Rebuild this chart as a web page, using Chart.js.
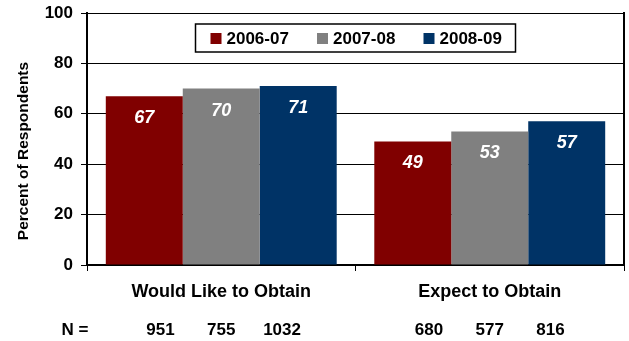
<!DOCTYPE html>
<html>
<head>
<meta charset="utf-8">
<script src="https://cdn.jsdelivr.net/npm/chart.js@4"></script>
<style>
    html, body { margin: 0; padding: 0; background: #fff; }
    #grafica-contenedor { width: 629px; height: 341px; }
</style>
</head>
<body>
<div id="grafica-contenedor"><canvas id="grafica"></canvas></div>
<script>
// ==================== DATOS ====================
const categorias = ['Would Like to Obtain', 'Expect to Obtain'];
const series = ['2006-07', '2007-08', '2008-09'];
const valores0607 = [67, 49];
const valores0708 = [70, 53];
const valores0809 = [71, 57];
// N por categoria, en el orden de las series
const nWouldLike = [951, 755, 1032];
const nExpect = [680, 577, 816];
const ticksY = [0, 20, 40, 60, 80, 100];

const colores = ['#800000', '#808080', '#003366'];
const fuente = "Arial, 'Liberation Sans', sans-serif";

// Dibuja etiquetas, leyenda con borde, fila de N y titulo del eje
const extras = {
    id: 'extras',
    afterDatasetsDraw(chart) {
        const ctx = chart.ctx;
        const area = chart.chartArea;
        const xScale = chart.scales.x;
        ctx.save();

        // borde derecho del area
        ctx.strokeStyle = '#000';
        ctx.lineWidth = 2;
        ctx.beginPath();
        ctx.moveTo(area.right, area.top - 1);
        ctx.lineTo(area.right, area.bottom);
        ctx.stroke();

        // etiquetas de valores
        ctx.fillStyle = '#fff';
        ctx.font = 'italic bold 18px ' + fuente;
        ctx.textAlign = 'center';
        ctx.textBaseline = 'middle';
        chart.data.datasets.forEach((ds, i) => {
            chart.getDatasetMeta(i).data.forEach((bar, j) => {
                ctx.fillText(ds.data[j], bar.x, bar.y + 22);
            });
        });

        // fila de N
        const nPorCategoria = [nWouldLike, nExpect];
        ctx.fillStyle = '#000';
        ctx.font = 'bold 17px ' + fuente;
        ctx.fillText('N =', area.left - 12, 330);
        categorias.forEach((c, j) => {
            const centro = xScale.getPixelForValue(j);
            chart.data.datasets.forEach((ds, i) => {
                const bar = chart.getDatasetMeta(i).data[j];
                const x = centro + (bar.x - centro) * 0.79;
                ctx.fillText(nPorCategoria[j][i], x, 330);
            });
        });

        // leyenda
        const anchoCaja = 320, altoCaja = 28;
        const cx = (area.left + area.right) / 2;
        const lx = cx - anchoCaja / 2;
        const ly = area.top + 11;
        ctx.fillStyle = '#fff';
        ctx.fillRect(lx, ly, anchoCaja, altoCaja);
        ctx.strokeStyle = '#000';
        ctx.lineWidth = 1.5;
        ctx.strokeRect(lx, ly, anchoCaja, altoCaja);
        ctx.textAlign = 'left';
        chart.data.datasets.forEach((ds, i) => {
            const ix = lx + 15 + i * 106.5;
            ctx.fillStyle = ds.backgroundColor;
            ctx.fillRect(ix, ly + 9, 11, 11);
            ctx.fillStyle = '#000';
            ctx.fillText(ds.label, ix + 16, ly + 15);
        });

        // titulo eje Y
        ctx.translate(24, 151);
        ctx.rotate(-Math.PI / 2);
        ctx.textAlign = 'center';
        ctx.font = 'bold 15.5px ' + fuente;
        ctx.fillText('Percent of Respondents', 0, 0);

        ctx.restore();
    }
};

const datos = [valores0607, valores0708, valores0809];

new Chart(document.getElementById('grafica').getContext('2d'), {
    type: 'bar',
    data: {
        labels: categorias,
        datasets: series.map((s, i) => ({
            label: s,
            data: datos[i],
            backgroundColor: colores[i],
            borderWidth: 0,
            categoryPercentage: 0.86,
            barPercentage: 1.0
        }))
    },
    options: {
        responsive: true,
        maintainAspectRatio: false,
        animation: false,
        layout: { padding: { left: 0, right: 5, top: 13, bottom: 0 } },
        plugins: {
            legend: { display: false },
            tooltip: { enabled: false }
        },
        scales: {
            x: {
                grid: {
                    offset: true,
                    drawOnChartArea: false,
                    color: '#000',
                    tickLength: 6
                },
                border: { color: '#000', width: 2 },
                ticks: {
                    color: '#000',
                    padding: 10,
                    font: { family: fuente, size: 18, weight: 'bold' }
                },
                afterFit(scale) { scale.height = 76; }
            },
            y: {
                min: 0,
                max: 100,
                afterBuildTicks(scale) { scale.ticks = ticksY.map(v => ({ value: v })); },
                grid: { color: '#000', lineWidth: 1, tickLength: 6 },
                border: { color: '#000', width: 2 },
                ticks: {
                    color: '#000',
                    padding: 8,
                    font: { family: fuente, size: 17, weight: 'bold' }
                },
                afterFit(scale) {
                    scale.width = 87;
                    scale.paddingTop = 0;
                    scale.paddingBottom = 0;
                }
            }
        }
    },
    plugins: [extras]
});
</script>
</body>
</html>
